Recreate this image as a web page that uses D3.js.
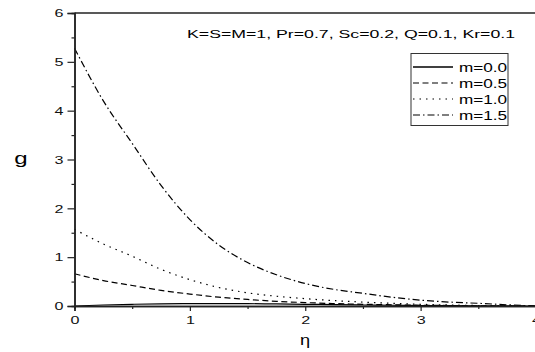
<!DOCTYPE html>
<html>
<head>
<meta charset="utf-8">
<script src="https://cdn.jsdelivr.net/npm/d3@7"></script>
<style>
  body { margin: 0; background: #fff; }
  svg { display: block; font-family: Arial, "Liberation Sans", sans-serif; }
  .curve { fill: none; stroke: #000; stroke-width: 1.2; }
</style>
</head>
<body>
<div id="chart"></div>
<script>
var W = 535, H = 352;

// eta sample points
var eta = [0, 0.25, 0.5, 0.75, 1, 1.25, 1.5, 1.75, 2, 2.25, 2.5, 2.75, 3, 3.25, 3.5, 3.75, 4];

// g values
var g_m00 = [0, 0.02, 0.035, 0.045, 0.05, 0.05, 0.048, 0.042, 0.035, 0.028, 0.021, 0.015, 0.01, 0.006, 0.003, 0.001, 0];
var g_m05 = [0.66, 0.52, 0.42, 0.32, 0.245, 0.18, 0.135, 0.095, 0.07, 0.05, 0.035, 0.025, 0.015, 0.01, 0.005, 0.002, 0];
var g_m10 = [1.57, 1.27, 1.02, 0.75, 0.54, 0.38, 0.27, 0.2, 0.15, 0.11, 0.08, 0.055, 0.035, 0.02, 0.01, 0.005, 0];
var g_m15 = [5.28, 4.2, 3.33, 2.47, 1.77, 1.25, 0.89, 0.64, 0.46, 0.34, 0.26, 0.18, 0.12, 0.08, 0.055, 0.025, 0];

var seriesNames = ["m=0.0", "m=0.5", "m=1.0", "m=1.5"];
var seriesVals = [g_m00, g_m05, g_m10, g_m15];
var dashes = [null, "6,3.5", "1.5,5", "7,3,1.5,3"];

var xTicks = [0, 1, 2, 3, 4];
var yTicks = [0, 1, 2, 3, 4, 5, 6];
var annotation = "K=S=M=1, Pr=0.7, Sc=0.2, Q=0.1, Kr=0.1";

var margin = { left: 74.5, top: 13, right: 536, bottom: 306 };
var STRETCH = 1.4; // the original picture's text is wide

var x = d3.scaleLinear().domain([0, 4]).range([margin.left, margin.right]);
var y = d3.scaleLinear().domain([0, 6]).range([margin.bottom, margin.top]);

var svg = d3.select("#chart").append("svg")
    .attr("width", W)
    .attr("height", H);

// widen text horizontally to match the reference
function widen(sel, k) {
    sel.each(function() {
        var len = this.getComputedTextLength();
        if (len > 0) {
            d3.select(this)
                .attr("textLength", len * (k || STRETCH))
                .attr("lengthAdjust", "spacingAndGlyphs");
        }
    });
}

// curves
var line = d3.line()
    .x(function(d, i) { return x(eta[i]); })
    .y(function(d) { return y(d); })
    .curve(d3.curveMonotoneX);

seriesVals.forEach(function(vals, k) {
    svg.append("path")
        .attr("class", "curve")
        .attr("d", line(vals))
        .attr("stroke-width", k == 0 ? 1.5 : 1.2)
        .attr("stroke-dasharray", dashes[k]);
});

// top frame line
svg.append("line")
    .attr("x1", margin.left).attr("x2", W)
    .attr("y1", margin.top).attr("y2", margin.top)
    .attr("stroke", "#222").attr("stroke-width", 1.5);

// axes
svg.append("g")
    .attr("transform", "translate(0," + margin.bottom + ")")
    .call(d3.axisBottom(x).tickValues(xTicks).tickFormat(d3.format("d")).tickSize(5).tickPadding(5));
svg.append("g")
    .attr("transform", "translate(0," + margin.bottom + ")")
    .call(d3.axisBottom(x).tickValues([0.5, 1.5, 2.5, 3.5]).tickFormat("").tickSize(3));

svg.append("g")
    .attr("transform", "translate(" + margin.left + ",0)")
    .call(d3.axisLeft(y).tickValues(yTicks).tickFormat(d3.format("d")).tickSize(7).tickPadding(4));
svg.append("g")
    .attr("transform", "translate(" + margin.left + ",0)")
    .call(d3.axisLeft(y).tickValues([0.5, 1.5, 2.5, 3.5, 4.5, 5.5]).tickFormat("").tickSize(3));

svg.selectAll(".domain").attr("stroke", "#222").attr("stroke-width", 1.5);
svg.selectAll(".tick line").attr("stroke", "#222").attr("stroke-width", 1.2);
svg.selectAll(".tick text")
    .attr("font-family", "Arial, 'Liberation Sans', sans-serif")
    .attr("font-size", 11.5)
    .attr("fill", "#111")
    .call(widen);

// axis titles
svg.append("text")
    .attr("x", 21).attr("y", 164)
    .attr("text-anchor", "middle")
    .attr("font-size", 16)
    .text("g")
    .call(widen, 1.5);
svg.append("text")
    .attr("x", 305).attr("y", 345)
    .attr("text-anchor", "middle")
    .attr("font-size", 14)
    .text("η")
    .call(widen, 1.3);

// annotation
svg.append("text")
    .attr("x", 187).attr("y", 38)
    .attr("font-size", 11.8)
    .text(annotation)
    .call(widen, 1.5);

// legend
var legend = svg.append("g");
legend.append("rect")
    .attr("x", 411).attr("y", 53.5)
    .attr("width", 97).attr("height", 72)
    .attr("fill", "#fff").attr("stroke", "#333").attr("stroke-width", 1);

seriesNames.forEach(function(name, k) {
    var ly = 67 + k * 16;
    legend.append("line")
        .attr("x1", 413).attr("x2", 453)
        .attr("y1", ly).attr("y2", ly)
        .attr("stroke", "#000")
        .attr("stroke-width", k == 0 ? 1.5 : 1.2)
        .attr("stroke-dasharray", dashes[k]);
    legend.append("text")
        .attr("x", 459).attr("y", ly + 4.5)
        .attr("font-size", 12.5)
        .text(name)
        .call(widen, 1.37);
});
</script>
</body>
</html>
